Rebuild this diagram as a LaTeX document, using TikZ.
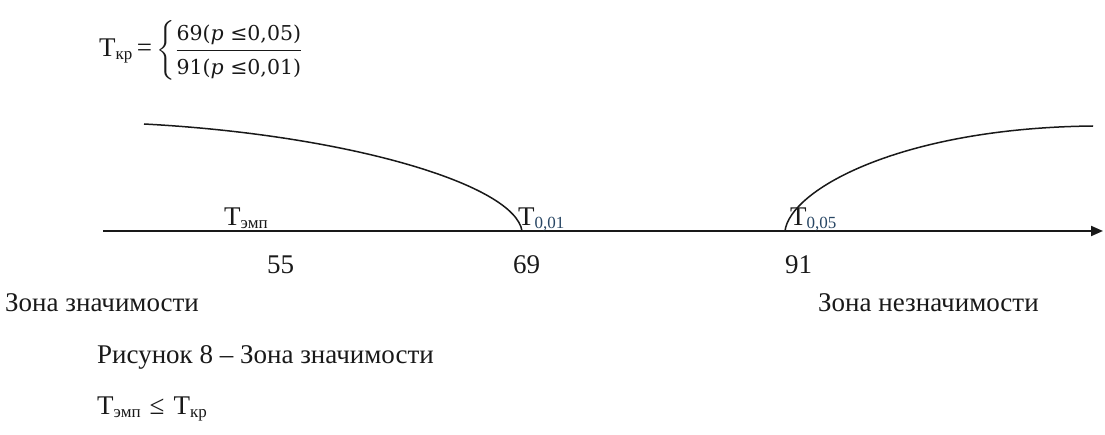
\documentclass[tikz,border=0pt]{standalone}
\usepackage{amsmath}
\usepackage{fontspec}
\setmainfont{Liberation Serif}
\newfontfamily\frmfont{DejaVu Serif}
\usetikzlibrary{positioning,arrows.meta}
\definecolor{inkDark}{RGB}{25,25,25}
\definecolor{subBlue}{RGB}{40,70,100}
\newcommand\Tlab[2][inkDark]{T\raisebox{-3pt}{\fontsize{17}{17}\selectfont\color{#1}#2}}
\newcommand\frmline[1]{\text{\frmfont\fontsize{20.5}{24}\selectfont #1}}

\begin{document}
\begin{tikzpicture}[x=1pt,y=-1pt,
  font=\fontsize{27}{32}\selectfont,
  txt/.style={inner sep=0pt,anchor=base west,text=inkDark},
  axisline/.style={draw=inkDark,line width=2pt,-{Triangle[length=12pt,width=10pt]}},
  zone/.style={draw=inkDark,line width=1.5pt}
]
\useasboundingbox (0,0) rectangle (1105,435);

\def\yAx{231}

% ---- critical value (top) ----
\node[txt] (tkr) at (99,57)
  {\Tlab{кр}\,=\,$\left\{\dfrac{\frmline{69(\textit{p} ≤0,05)}}{\frmline{91(\textit{p} ≤0,01)}}\right.$};

% ---- axis ----
\coordinate (ax0) at (103,\yAx);
\coordinate (ax1) at (1103,\yAx);
\draw[axisline] (ax0) -- (ax1);

% ---- zone curves ----
\coordinate (lzS) at (144,124);
\coordinate (lzE) at (522,\yAx);
\draw[zone] (lzS) .. controls (350,135) and (515,185) .. (lzE);
\coordinate (rzS) at (785,\yAx);
\coordinate (rzE) at (1093,126);
\draw[zone] (rzS) .. controls (790,190) and (900,128) .. (rzE);

% ---- labels on the axis ----
\node[txt] (temp) at (224,226) {\Tlab{эмп}};
\node[txt] (t001) at (518,226) {\Tlab[subBlue]{0,01}};
\node[txt] (t005) at (790,226) {\Tlab[subBlue]{0,05}};

% ---- values ----
\node[txt] (n55) at (267,274) {55};
\node[txt] (n69) at (513,274) {69};
\node[txt] (n91) at (785,274) {91};

% ---- zones ----
\node[txt] (zsig)  at (5,312)   {Зона значимости};
\node[txt] (znsig) at (818,312) {Зона незначимости};

% ---- caption and condition ----
\node[txt] (capt) at (97,363) {Рисунок 8 -- Зона значимости};
\node[txt] (cond) at (97,414) {\Tlab{эмп}\hspace{9pt}≤\hspace{9pt}\Tlab{кр}};

\end{tikzpicture}
\end{document}
